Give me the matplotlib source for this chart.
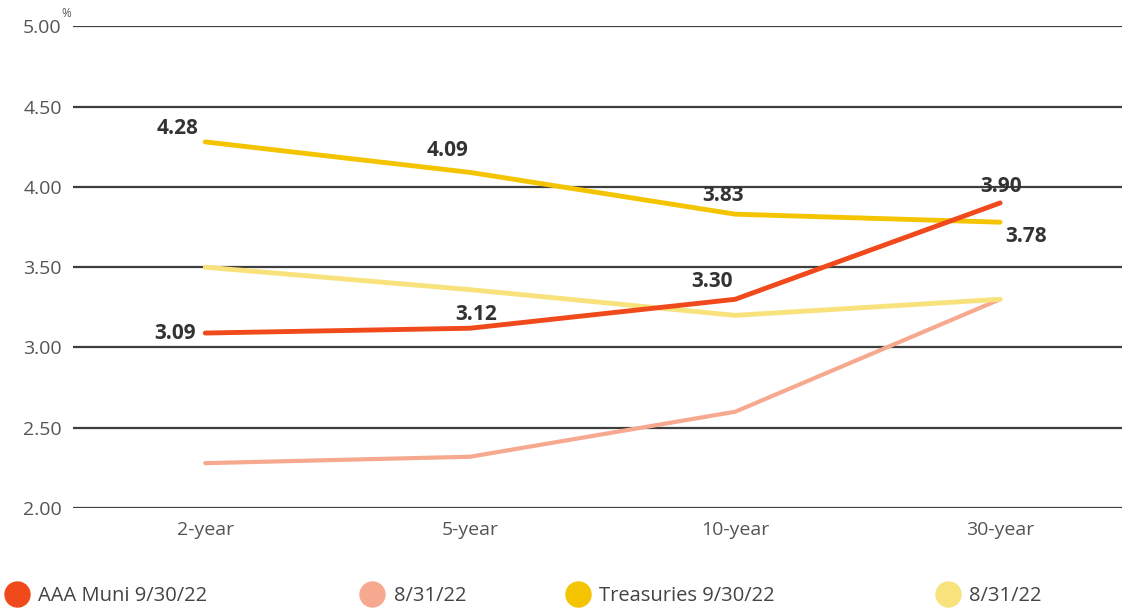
import matplotlib
matplotlib.use('Agg')
import matplotlib.pyplot as plt
from matplotlib.lines import Line2D

plt.rcParams['font.family'] = ['Open Sans', 'DejaVu Sans']

# Datos del gráfico
plazos = ['2-year', '5-year', '10-year', '30-year']
muni_sep = [3.09, 3.12, 3.30, 3.90]
muni_ago = [2.28, 2.32, 2.60, 3.30]
treas_sep = [4.28, 4.09, 3.83, 3.78]
treas_ago = [3.50, 3.36, 3.20, 3.30]
etiquetas_series = ['AAA Muni 9/30/22', '8/31/22', 'Treasuries 9/30/22', '8/31/22']
colores = ['#F04A1C', '#F7A98F', '#F5C400', '#F8E27C']

fig = plt.figure(figsize=(11.22, 6.10), dpi=100)
ax = fig.add_axes([0.065, 0.167, 0.935, 0.790])

x = list(range(len(plazos)))

# Líneas (las de agosto primero, debajo)
ax.plot(x, muni_ago, color=colores[1], lw=3, solid_capstyle='round', zorder=3)
ax.plot(x, treas_ago, color=colores[3], lw=3.5, solid_capstyle='round', zorder=3)
ax.plot(x, treas_sep, color=colores[2], lw=3.5, solid_capstyle='round', zorder=4)
ax.plot(x, muni_sep, color=colores[0], lw=3.5, solid_capstyle='round', zorder=5)

# Etiquetas de valores
estilo = dict(fontsize=15, fontweight='bold', color='#333333', zorder=6)
ax.annotate(f'{treas_sep[0]:.2f}', (x[0], treas_sep[0]), xytext=(-5, 2),
            textcoords='offset points', ha='right', va='bottom', **estilo)
ax.annotate(f'{muni_sep[0]:.2f}', (x[0], muni_sep[0]), xytext=(-7, 0),
            textcoords='offset points', ha='right', va='center', **estilo)
ax.annotate(f'{treas_sep[1]:.2f}', (x[1], treas_sep[1]), xytext=(-16, 8),
            textcoords='offset points', ha='center', va='bottom', **estilo)
ax.annotate(f'{muni_sep[1]:.2f}', (x[1], muni_sep[1]), xytext=(4, 2),
            textcoords='offset points', ha='center', va='bottom', **estilo)
ax.annotate(f'{treas_sep[2]:.2f}', (x[2], treas_sep[2]), xytext=(-9, 6),
            textcoords='offset points', ha='center', va='bottom', **estilo)
ax.annotate(f'{muni_sep[2]:.2f}', (x[2], muni_sep[2]), xytext=(-17, 5),
            textcoords='offset points', ha='center', va='bottom', **estilo)
ax.annotate(f'{muni_sep[3]:.2f}', (x[3], muni_sep[3]), xytext=(1, 4),
            textcoords='offset points', ha='center', va='bottom', **estilo)
ax.annotate(f'{treas_sep[3]:.2f}', (x[3], treas_sep[3]), xytext=(4, -3),
            textcoords='offset points', ha='left', va='top', **estilo)

# Ejes
ax.set_xlim(-0.4994, 3.46)
ax.set_ylim(2.0, 5.0)
ax.set_yticks([2.0, 2.5, 3.0, 3.5, 4.0, 4.5, 5.0])
ax.set_yticklabels(['2.00', '2.50', '3.00', '3.50', '4.00', '4.50', '5.00'])
ax.set_xticks(x)
ax.set_xticklabels(plazos)
ax.tick_params(length=0, labelsize=14, labelcolor='#555555')
ax.tick_params(axis='y', pad=8)
ax.tick_params(axis='x', pad=9)
ax.grid(axis='y', color='#3f3f3f', lw=1.6, zorder=1)
for s in ax.spines.values():
    s.set_visible(False)

# Símbolo de porcentaje
fig.text(0.055, 0.978, '%', fontsize=8.5, color='#555555', ha='left', va='center')

# Leyenda
posiciones = [-0.003, 0.314, 0.497, 0.827]
for pos, lab, col in zip(posiciones, etiquetas_series, colores):
    h = Line2D([], [], marker='o', ls='', markersize=18, color=col)
    fig.legend([h], [lab], loc='center left', bbox_to_anchor=(pos, 0.023),
               frameon=False, fontsize=14.5, handletextpad=0.05,
               borderaxespad=0, borderpad=0, labelcolor='#444444')

fig.savefig('out.png', dpi=100)
